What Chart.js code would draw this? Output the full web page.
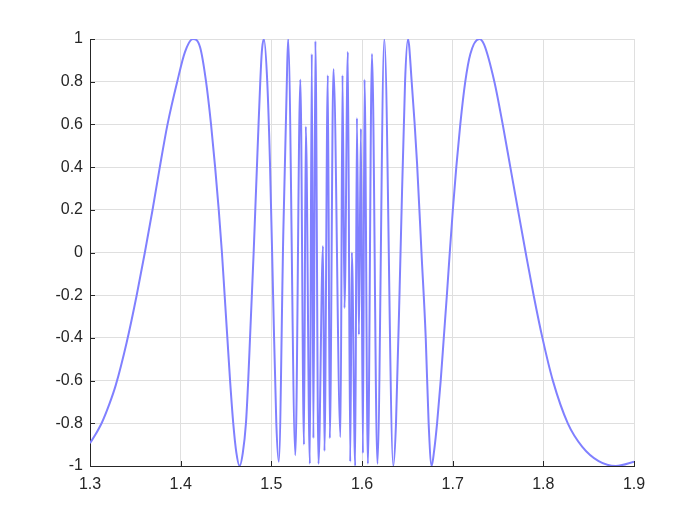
<!DOCTYPE html>
<html>
<head>
<meta charset="utf-8">
<script src="https://cdn.jsdelivr.net/npm/chart.js@4/dist/chart.umd.min.js"></script>
<style>
    body { margin: 0; background: #fff; }
    canvas { display: block; }
</style>
</head>
<body>
<canvas id="chart" width="700" height="525"></canvas>
<script>
// curve samples
const xValues = [
    1.3, 1.306, 1.3133, 1.321, 1.3285, 1.3405, 1.3515, 1.3605, 1.369, 1.377,
    1.3855, 1.3962, 1.4048, 1.4134, 1.4215, 1.428, 1.4335, 1.438, 1.442, 1.4455,
    1.4485, 1.4515, 1.4545, 1.458, 1.4615, 1.465, 1.4685, 1.472, 1.4745, 1.4765,
    1.4785, 1.4805, 1.4823, 1.4841, 1.4859, 1.4878, 1.4895, 1.4918, 1.4955, 1.4985,
    1.502, 1.5055, 1.5082, 1.5133, 1.517, 1.5185, 1.5265, 1.532, 1.536, 1.538,
    1.5425, 1.5446, 1.5464, 1.5486, 1.552, 1.557, 1.5586, 1.5623, 1.5645, 1.5685,
    1.5763, 1.5785, 1.5807, 1.5844, 1.587, 1.5888, 1.5925, 1.5944, 1.5966, 1.5988,
    1.601, 1.6028, 1.6065, 1.611, 1.617, 1.6246, 1.6345, 1.6375, 1.6425, 1.6475,
    1.6507, 1.6548, 1.6607, 1.6656, 1.6703, 1.6735, 1.6768, 1.6795, 1.6828, 1.6868,
    1.6902, 1.6936, 1.6968, 1.7002, 1.704, 1.7084, 1.7139, 1.7195, 1.7293, 1.7346,
    1.746, 1.7552, 1.7636, 1.772, 1.7805, 1.7893, 1.799, 1.8105, 1.827, 1.843,
    1.861, 1.880, 1.9
];
const yValues = [
    -0.893, -0.853, -0.795, -0.714, -0.62, -0.42, -0.2, 0.0, 0.2, 0.4,
    0.6, 0.8, 0.94, 1.0, 0.96, 0.8, 0.6, 0.4, 0.2, 0.0,
    -0.2, -0.4, -0.6, -0.8, -0.94, -1.0, -0.94, -0.8, -0.6, -0.4,
    -0.2, 0.0, 0.2, 0.4, 0.6, 0.8, 0.94, 1.0, 0.8, 0.42,
    -0.21, -0.8, -0.98, 0.11, 0.78, 1.0, -0.95, 0.81, -0.90, 0.59,
    -0.99, 0.93, -0.87, 0.99, -0.99, 0.03, -0.93, 0.83, -0.87, 0.86,
    -0.865, 0.83, -0.26, 0.94, -0.98, 0.0, -1.0, 0.63, -0.385, 0.58,
    -0.94, 0.81, -0.99, 0.93, -0.99, 1.0, -1.0, -0.8, 0.0, 0.8,
    1.0, 0.8, 0.42, 0.0, -0.4, -0.8, -1.0, -0.93, -0.8, -0.6,
    -0.4, -0.2, 0.0, 0.2, 0.4, 0.6, 0.8, 0.93, 1.0, 0.975,
    0.8, 0.6, 0.4, 0.2, 0.0, -0.2, -0.4, -0.6, -0.8, -0.91,
    -0.977, -1.0, -0.98
];

const xTicks = [1.3, 1.4, 1.5, 1.6, 1.7, 1.8, 1.9];
const xTickLabels = ['1.3', '1.4', '1.5', '1.6', '1.7', '1.8', '1.9'];
const yTicks = [-1, -0.8, -0.6, -0.4, -0.2, 0, 0.2, 0.4, 0.6, 0.8, 1];
const yTickLabels = ['-1', '-0.8', '-0.6', '-0.4', '-0.2', '0', '0.2', '0.4', '0.6', '0.8', '1'];

const axisColor = '#262626';
const gridColor = '#dfdfdf';
const tickFont = { family: '"Liberation Sans", Arial, sans-serif', size: 16 };

// MATLAB style ticks pointing into the plot box
const innerTicks = {
    id: 'innerTicks',
    afterDatasetsDraw(chart) {
        const ctx = chart.ctx;
        const area = chart.chartArea;
        const xs = chart.scales.x;
        const ys = chart.scales.y;
        ctx.save();
        ctx.strokeStyle = axisColor;
        ctx.lineWidth = 1;
        ctx.beginPath();
        xTicks.forEach(v => {
            const px = Math.round(xs.getPixelForValue(v)) + 0.5;
            ctx.moveTo(px, area.bottom);
            ctx.lineTo(px, area.bottom - 5);
        });
        yTicks.forEach(v => {
            const py = Math.round(ys.getPixelForValue(v)) + 0.5;
            ctx.moveTo(area.left, py);
            ctx.lineTo(area.left + 5, py);
        });
        ctx.stroke();
        ctx.restore();
    }
};

new Chart(document.getElementById('chart'), {
    type: 'scatter',
    data: {
        datasets: [{
            data: xValues.map((x, i) => ({ x: x, y: yValues[i] })),
            showLine: true,
            borderColor: 'rgb(128, 128, 255)',
            borderWidth: 2,
            pointRadius: 0,
            cubicInterpolationMode: 'monotone',
            fill: false
        }]
    },
    options: {
        responsive: false,
        animation: false,
        layout: { padding: { top: 39, right: 66, left: 0, bottom: 0 } },
        plugins: {
            legend: { display: false },
            tooltip: { enabled: false }
        },
        scales: {
            x: {
                type: 'linear',
                min: 1.3,
                max: 1.9,
                afterBuildTicks: scale => { scale.ticks = xTicks.map(v => ({ value: v })); },
                afterFit: scale => { scale.height = 59; },
                ticks: {
                    color: axisColor,
                    font: tickFont,
                    padding: 9,
                    maxRotation: 0,
                    callback: (v, i) => xTickLabels[i]
                },
                grid: { color: gridColor, drawTicks: false },
                border: { color: axisColor, width: 1 }
            },
            y: {
                type: 'linear',
                min: -1,
                max: 1,
                afterBuildTicks: scale => { scale.ticks = yTicks.map(v => ({ value: v })); },
                afterFit: scale => { scale.width = 90; },
                ticks: {
                    color: axisColor,
                    font: tickFont,
                    padding: 7,
                    callback: (v, i) => yTickLabels[i]
                },
                grid: { color: gridColor, drawTicks: false },
                border: { color: axisColor, width: 1 }
            }
        }
    },
    plugins: [innerTicks]
});
</script>
</body>
</html>
